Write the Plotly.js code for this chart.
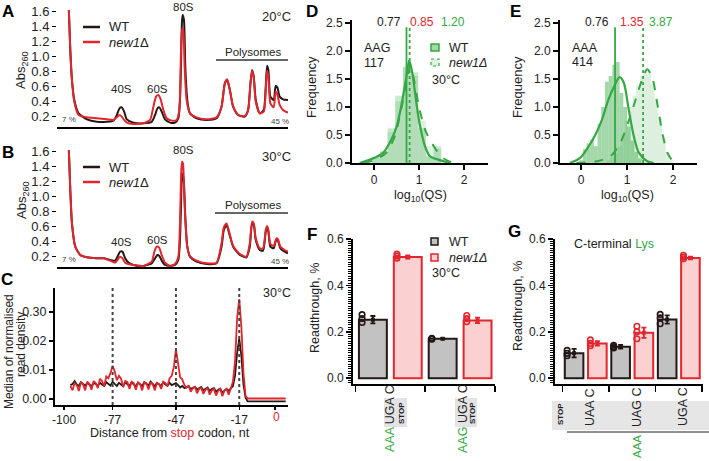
<!DOCTYPE html>
<html><head><meta charset="utf-8">
<script src="https://cdn.plot.ly/plotly-3.0.1.min.js"></script>
<style>html,body{margin:0;padding:0;background:#fff}#chart{width:709px;height:461px}</style>
</head><body><div id="chart"></div><script>
// ---------- DATA ----------
// Panel A (20°C) polysome profiles: position along gradient, Abs260
const aWtPos = [35,40,45,52,65,90,120,150,170,180,188,195,202,210,230,260,285,295,302,308,315,325,340,355,365,370,373,376,378,382,386,392,400,420,450,480,495,505,512,520,530,545,565,575,582,587,592,598,610,622,628,632,636,642,652,658,663,670,680,695];
const aWtAbs = [1.7,1.089,0.689,0.422,0.244,0.164,0.133,0.133,0.147,0.222,0.311,0.324,0.267,0.164,0.12,0.111,0.133,0.222,0.311,0.324,0.267,0.164,0.12,0.12,0.178,0.422,0.867,1.467,1.556,1.489,0.867,0.422,0.244,0.178,0.156,0.178,0.333,0.644,0.689,0.556,0.333,0.222,0.2,0.289,0.644,0.822,0.733,0.422,0.244,0.289,0.6,0.88,0.822,0.467,0.422,0.609,0.591,0.467,0.431,0.422];
const aNewPos = [35,40,45,52,65,90,120,150,170,180,188,195,202,210,230,260,280,290,298,305,312,320,330,345,360,368,371,374,377,380,384,390,400,420,450,480,495,505,512,520,530,545,565,575,582,587,592,598,610,622,628,632,636,642,652,658,663,670,680,695];
const aNewAbs = [1.7,1.089,0.689,0.40,0.222,0.191,0.178,0.164,0.156,0.191,0.222,0.2,0.156,0.12,0.102,0.111,0.156,0.333,0.467,0.489,0.431,0.289,0.178,0.147,0.156,0.289,0.644,1.222,1.378,1.347,0.867,0.422,0.244,0.191,0.164,0.191,0.333,0.644,0.698,0.564,0.333,0.222,0.209,0.289,0.644,0.813,0.711,0.4,0.244,0.267,0.556,0.813,0.733,0.378,0.324,0.533,0.502,0.356,0.289,0.253];
// Panel B (30°C)
const bWtPos = [35,40,45,55,70,90,120,140,160,175,182,190,197,205,215,230,260,285,295,302,308,315,325,340,355,365,370,373,376,379,382,386,392,400,420,450,480,495,502,510,518,530,550,570,580,587,592,598,610,620,628,632,636,642,652,660,665,672,685,695];
const bWtAbs = [1.7,1.089,0.644,0.333,0.222,0.191,0.178,0.178,0.156,0.147,0.2,0.267,0.267,0.178,0.12,0.089,0.076,0.111,0.178,0.222,0.209,0.147,0.089,0.076,0.089,0.156,0.422,0.867,1.267,1.311,1.178,0.733,0.333,0.2,0.133,0.102,0.111,0.333,0.556,0.622,0.511,0.333,0.222,0.191,0.333,0.644,0.622,0.422,0.289,0.28,0.533,0.591,0.533,0.333,0.311,0.431,0.413,0.311,0.267,0.244];
const bNewPos = [35,40,45,55,70,90,120,140,160,175,182,190,197,205,215,230,260,285,293,300,307,315,325,340,355,365,370,373,376,379,382,386,392,400,420,450,480,495,502,510,518,530,550,570,580,587,592,598,610,620,628,632,636,642,652,660,665,672,685,695];
const bNewAbs = [1.7,1.089,0.644,0.333,0.222,0.191,0.178,0.178,0.147,0.12,0.156,0.2,0.178,0.12,0.102,0.089,0.076,0.133,0.267,0.333,0.324,0.222,0.12,0.076,0.102,0.2,0.644,1.222,1.467,1.444,1.133,0.689,0.333,0.209,0.147,0.111,0.12,0.378,0.591,0.644,0.533,0.342,0.236,0.2,0.378,0.667,0.644,0.444,0.311,0.311,0.556,0.609,0.556,0.369,0.342,0.444,0.431,0.333,0.289,0.267];

// Panel C: distance from stop codon (nt) and median normalised read density
const cDist = [-97,-96,-95,-94,-93,-92,-91,-90,-89,-88,-87,-86,-85,-84,-83,-82,-81,-80,-79,-78,-77,-76,-75,-74,-73,-72,-71,-70,-69,-68,-67,-66,-65,-64,-63,-62,-61,-60,-59,-58,-57,-56,-55,-54,-53,-52,-51,-50,-49,-48,-47,-46,-45,-44,-43,-42,-41,-40,-39,-38,-37,-36,-35,-34,-33,-32,-31,-30,-29,-28,-27,-26,-25,-24,-23,-22,-21,-20,-19,-18,-17,-16,-15,-14,-13,-12,-11,-10,-9,-8,-7,-6,-5,-4,-3,-2,-1,0,1,2,3,4,5];
const cNew = [0.0045,0.0030,0.0055,0.0048,0.0028,0.0058,0.0050,0.0030,0.0060,0.0052,0.0032,0.0062,0.0055,0.0038,0.0070,0.0062,0.0045,0.0078,0.0072,0.0090,0.0115,0.0095,0.0065,0.0080,0.0070,0.0042,0.0062,0.0058,0.0035,0.0060,0.0055,0.0032,0.0058,0.0052,0.0030,0.0057,0.0055,0.0033,0.0058,0.0050,0.0030,0.0055,0.0052,0.0035,0.0060,0.0055,0.0045,0.0072,0.0080,0.0110,0.0172,0.0120,0.0075,0.0068,0.0048,0.0040,0.0045,0.0025,0.0038,0.0042,0.0020,0.0035,0.0038,0.0018,0.0032,0.0038,0.0015,0.0030,0.0035,0.0012,0.0028,0.0035,0.0010,0.0030,0.0035,0.0015,0.0040,0.0060,0.0130,0.0280,0.0345,0.0250,0.0090,0.0010,0.0002,0.0002,0.0002,0.0002,0.0002,0.0002,0.0002,0.0002,0.0002,0.0002,0.0002,0.0002,0.0002,0.0002,0.0002,0.0002,0.0002,0.0002,0.0002];
const cWt = [0.0048,0.0052,0.0062,0.0050,0.0045,0.0058,0.0052,0.0046,0.0056,0.0050,0.0044,0.0055,0.0052,0.0046,0.0056,0.0050,0.0045,0.0058,0.0052,0.0046,0.0060,0.0052,0.0045,0.0056,0.0050,0.0044,0.0058,0.0052,0.0045,0.0058,0.0050,0.0044,0.0056,0.0050,0.0045,0.0058,0.0052,0.0046,0.0060,0.0050,0.0044,0.0056,0.0050,0.0045,0.0058,0.0050,0.0046,0.0056,0.0048,0.0052,0.0055,0.0048,0.0040,0.0045,0.0038,0.0040,0.0045,0.0035,0.0040,0.0042,0.0033,0.0038,0.0042,0.0030,0.0035,0.0040,0.0028,0.0035,0.0038,0.0025,0.0032,0.0036,0.0022,0.0030,0.0035,0.0028,0.0035,0.0045,0.0080,0.0160,0.0208,0.0150,0.0050,0.0005,-0.0008,-0.0008,-0.0008,-0.0008,-0.0008,-0.0008,-0.0008,-0.0008,-0.0008,-0.0008,-0.0008,-0.0008,-0.0008,-0.0008,-0.0008,-0.0008,-0.0008,-0.0008,-0.0008];
const cMarks = [-77,-47,-17];
const cTicks = [-100,-77,-47,-17,0];
const cTickText = ['-100','-77','-47','-17',' '];

// Panel D (AAG, n=117): histogram bins and KDE of log10(QS)
const dBinCenters = [0.045,0.215,0.385,0.555,0.725,0.895,1.065,1.235,1.405];
const dBinWidth = 0.17;
const dWtHist = [0.12,0.2,0.62,1.2,1.72,1.62,0.62,0.12,0.3];
const dNewHist = [0.1,0.22,0.55,1.1,1.7,1.55,0.75,0.3,0.25];
const dWtKdeX = [-0.32,0.0,0.2,0.385,0.5,0.6,0.72,0.78,0.85,0.94,1.01,1.13,1.24,1.42,1.68];
const dWtKdeY = [0,0.09,0.18,0.42,0.65,1.0,1.55,1.83,1.6,1.07,0.71,0.3,0.12,0.06,0];
const dNewKdeX = [-0.24,0,0.27,0.46,0.6,0.73,0.81,0.9,1.01,1.16,1.35,1.53,1.76];
const dNewKdeY = [0,0.05,0.18,0.48,0.95,1.49,1.73,1.43,0.95,0.54,0.27,0.09,0];
const dMedians = [0.72,0.79];
// Panel E (AAA, n=414)
const eBinWidth = 0.08;
const eWtBins = [0.0,0.08,0.16,0.24,0.32,0.40,0.48,0.56,0.64,0.72,0.80,0.88,0.96,1.04,1.12,1.20,1.28];
const eWtHist = [0.05,0.25,0.35,0.42,0.3,0.7,1.0,1.45,1.55,1.75,1.8,1.25,1.0,0.65,0.4,0.2,0.08];
const eNewBins = [0.60,0.68,0.76,0.84,0.92,1.00,1.08,1.16,1.24,1.32,1.40,1.48,1.56,1.64,1.72,1.80,1.88,1.96];
const eNewHist = [0.05,0.1,0.18,0.3,0.5,0.75,1.0,1.2,1.38,1.55,1.65,1.6,1.4,1.15,0.8,0.45,0.2,0.05];
const eWtKdeX = [-0.24,-0.02,0.16,0.31,0.45,0.6,0.74,0.84,0.93,1.04,1.15,1.26,1.44,1.58];
const eWtKdeY = [0,0.09,0.29,0.5,0.76,1.14,1.4,1.53,1.43,0.94,0.47,0.18,0.03,0];
const eNewKdeX = [-0.1,0.34,0.64,0.85,1.04,1.18,1.33,1.44,1.55,1.66,1.77,1.88,2.02];
const eNewKdeY = [0,0.03,0.12,0.35,0.76,1.11,1.49,1.67,1.52,1.05,0.53,0.18,0];
const eMedians = [0.74,1.35];
const medianTop = 2.42;

// Panel F: readthrough, %
const fCats = ['AAA','AAG'];
const fWt = [0.252,0.170];
const fWtSd = [0.016,0.003];
const fWtPts = [[0.274,0.257,0.240],[0.172,0.170,0.168]];
const fNew = [0.522,0.249];
const fNewSd = [0.007,0.012];
const fNewPts = [[0.535,0.526,0.517],[0.270,0.257,0.243]];
// Panel G: C-terminal Lys, stop codons
const gCats = ['UAA','UAG','UGA'];
const gWt = [0.108,0.136,0.253];
const gWtSd = [0.018,0.008,0.018];
const gWtPts = [[0.120,0.107,0.097],[0.142,0.136,0.130],[0.275,0.260,0.235]];
const gNew = [0.150,0.196,0.518];
const gNewSd = [0.010,0.022,0.006];
const gNewPts = [[0.165,0.150,0.140],[0.224,0.200,0.170],[0.530,0.522,0.515]];

// ---------- STYLE ----------
const W = 709, H = 461;
const BLK = '#231815', RED = '#e1262d', GRN = '#35a844', TXT = '#222';
const GREYF = '#c2c2c2', PINKF = '#fbd0d0';
const FONT = 'Liberation Sans, Arial, Helvetica, sans-serif';
const px = x => x / W, py = y => 1 - y / H;
const dX = (a, b) => [a / W, b / W];
const dY = (top, bot) => [1 - bot / H, 1 - top / H];

const traces = [];
function line(x, y, xa, ya, color, opts) {
  traces.push(Object.assign({type:'scatter', mode:'lines', x, y, xaxis:xa, yaxis:ya,
    line:{color, width:2, shape:'spline', smoothing:0.6}, showlegend:false, hoverinfo:'skip'}, opts||{}));
}
// A & B
line(aWtPos, aWtAbs, 'x', 'y', BLK);
line(aNewPos, aNewAbs, 'x', 'y', RED);
line(bWtPos, bWtAbs, 'x2', 'y2', BLK);
line(bNewPos, bNewAbs, 'x2', 'y2', RED);
// C
line(cDist, cWt, 'x3', 'y3', BLK, {line:{color:BLK, width:1.8}});
line(cDist, cNew, 'x3', 'y3', RED, {line:{color:RED, width:1.8}});
// D
function hist(x, y, w, xa, ya, color) {
  traces.push({type:'bar', x, y, width:w, xaxis:xa, yaxis:ya, marker:{color, line:{width:0}}, showlegend:false, hoverinfo:'skip'});
}
hist(dBinCenters, dNewHist, dBinWidth, 'x4', 'y4', 'rgba(53,168,68,0.16)');
hist(dBinCenters, dWtHist, dBinWidth, 'x4', 'y4', 'rgba(53,168,68,0.26)');
line(dWtKdeX, dWtKdeY, 'x4', 'y4', GRN, {line:{color:GRN, width:2.2, shape:'spline', smoothing:0.8}});
line(dNewKdeX, dNewKdeY, 'x4', 'y4', GRN, {line:{color:GRN, width:2, dash:'dash', shape:'spline', smoothing:0.8}});
line([dMedians[0], dMedians[0]], [0, medianTop], 'x4', 'y4', GRN, {line:{color:GRN, width:1.8}});
line([dMedians[1], dMedians[1]], [0, medianTop], 'x4', 'y4', GRN, {line:{color:GRN, width:1.8, dash:'dot'}});
// E
hist(eNewBins, eNewHist, eBinWidth, 'x5', 'y5', 'rgba(53,168,68,0.17)');
hist(eWtBins, eWtHist, eBinWidth, 'x5', 'y5', 'rgba(53,168,68,0.45)');
line(eWtKdeX, eWtKdeY, 'x5', 'y5', GRN, {line:{color:GRN, width:2.2, shape:'spline', smoothing:0.8}});
line(eNewKdeX, eNewKdeY, 'x5', 'y5', GRN, {line:{color:GRN, width:2, dash:'dash', shape:'spline', smoothing:0.8}});
line([eMedians[0], eMedians[0]], [0, medianTop], 'x5', 'y5', GRN, {line:{color:GRN, width:1.8}});
line([eMedians[1], eMedians[1]], [0, medianTop], 'x5', 'y5', GRN, {line:{color:GRN, width:1.8, dash:'dot'}});

// F & G bars
function barGroup(cats, wt, wtSd, wtPts, nw, nwSd, nwPts, xa, ya, off) {
  const xw = cats.map((c, i) => 2 * i), xn = cats.map((c, i) => 2 * i + 1);
  traces.push({type:'bar', x:xw, y:wt, width:0.8, xaxis:xa, yaxis:ya, marker:{color:GREYF, line:{color:BLK, width:2}}, showlegend:false, hoverinfo:'skip'});
  traces.push({type:'bar', x:xn, y:nw, width:0.8, xaxis:xa, yaxis:ya, marker:{color:PINKF, line:{color:RED, width:2}}, showlegend:false, hoverinfo:'skip'});
  const pts = (arr, xs, color) => {
    const X = [], Y = [];
    arr.forEach((p, i) => p.forEach(v => { X.push(xs[i] + off); Y.push(v); }));
    traces.push({type:'scatter', mode:'markers', x:X, y:Y, xaxis:xa, yaxis:ya,
      marker:{symbol:'circle-open', size:5.5, color, line:{width:1.6, color}}, showlegend:false, hoverinfo:'skip', cliponaxis:false});
  };
  pts(wtPts, xw, BLK); pts(nwPts, xn, RED);
  traces.push({type:'scatter', mode:'markers', x:xw, y:wt, xaxis:xa, yaxis:ya, marker:{symbol:'square', size:4, color:BLK},
    error_y:{type:'data', array:wtSd, color:BLK, thickness:1.8, width:2.5}, showlegend:false, hoverinfo:'skip'});
  traces.push({type:'scatter', mode:'markers', x:xn, y:nw, xaxis:xa, yaxis:ya, marker:{symbol:'square', size:4, color:RED},
    error_y:{type:'data', array:nwSd, color:RED, thickness:1.8, width:2.5}, showlegend:false, hoverinfo:'skip'});
}
barGroup(fCats, fWt, fWtSd, fWtPts, fNew, fNewSd, fNewPts, 'x6', 'y6', -0.31);
barGroup(gCats, gWt, gWtSd, gWtPts, gNew, gNewSd, gNewPts, 'x7', 'y7', -0.3);

// ---------- AXES ----------
const base = {showgrid:false, zeroline:false, linecolor:'#000', linewidth:2, tickcolor:'#000', tickwidth:1.5,
  ticklen:4, ticks:'outside', tickfont:{size:12, color:TXT, family:FONT}, fixedrange:true};
const ax = o => Object.assign({}, base, o);
const polyY = [0.2,0.4,0.6,0.8,1.0,1.2,1.4,1.6];
const minorRT = {ticks:'outside', dtick:0.01, ticklen:3, tickwidth:1, tickcolor:'#000'};

const layout = {
  width:W, height:H, margin:{l:0, r:0, t:0, b:0}, paper_bgcolor:'#fff', plot_bgcolor:'rgba(0,0,0,0)',
  font:{family:FONT, color:TXT, size:12}, showlegend:false, barmode:'overlay',
  xaxis: ax({domain:dX(57,288), range:[0,695], anchor:'y', showline:true, ticks:'', showticklabels:false}),
  yaxis: ax({domain:dY(10,127), range:[0.062,1.623], anchor:'x', showline:false, tickvals:polyY, tickformat:'.1f', tickfont:{size:13, color:TXT, family:FONT}}),
  xaxis2: ax({domain:dX(57,288), range:[0,695], anchor:'y2', showline:true, ticks:'', showticklabels:false}),
  yaxis2: ax({domain:dY(150,267), range:[0.062,1.623], anchor:'x2', showline:false, tickvals:polyY, tickformat:'.1f', tickfont:{size:13, color:TXT, family:FONT}}),
  xaxis3: ax({domain:dX(55,288), range:[-104.3,6.1], anchor:'y3', showline:true, tickvals:cTicks, ticktext:cTickText, ticklen:3, tickfont:{size:12, color:TXT, family:FONT}}),
  yaxis3: ax({domain:dY(288,405), range:[-0.00205,0.0383], anchor:'x3', showline:true, tickvals:[0,0.01,0.02,0.03], ticktext:['0.00','0.01','0.02','0.30'], tickfont:{size:12.5, color:TXT, family:FONT}}),
  xaxis4: ax({domain:dX(352,488), range:[-0.49,2.53], anchor:'y4', showline:true, tickvals:[0,1,2], ticklen:5}),
  yaxis4: ax({domain:dY(20,163), range:[0,2.55], anchor:'x4', showline:true, tickvals:[0,0.5,1,1.5,2,2.5], tickformat:'.1f', ticklen:5}),
  xaxis5: ax({domain:dX(560,697), range:[-0.457,2.522], anchor:'y5', showline:true, tickvals:[0,1,2], ticklen:5}),
  yaxis5: ax({domain:dY(20,163), range:[0,2.55], anchor:'x5', showline:true, tickvals:[0,0.5,1,1.5,2,2.5], tickformat:'.1f', ticklen:5}),
  xaxis6: ax({domain:dX(353,495), range:[-0.57,3.5], anchor:'y6', showline:true, tickvals:[-0.5,1.5,3.5], showticklabels:false, ticklen:6}),
  yaxis6: ax({domain:dY(239,384), range:[-0.025,0.6], anchor:'x6', showline:true, tickvals:[0,0.2,0.4,0.6], tickformat:'.1f', ticklen:5, minor:minorRT}),
  xaxis7: ax({domain:dX(555,703), range:[-0.82,5.54], anchor:'y7', showline:true, tickvals:[-0.5,1.5,3.5,5.5], showticklabels:false, ticklen:6}),
  yaxis7: ax({domain:dY(239,384), range:[-0.025,0.6], anchor:'x7', showline:true, tickvals:[0,0.2,0.4,0.6], tickformat:'.1f', ticklen:5, minor:minorRT}),
};

// ---------- SHAPES ----------
const shapes = [];
const pline = (x0, y0, x1, y1, color, width, dash) => shapes.push({type:'line', xref:'paper', yref:'paper', x0:px(x0), y0:py(y0), x1:px(x1), y1:py(y1), line:{color, width, dash:dash||'solid'}});
const prect = (x0, y0, x1, y1, fill, color, width, dash) => shapes.push({type:'rect', xref:'paper', yref:'paper', x0:px(x0), y0:py(y0), x1:px(x1), y1:py(y1), fillcolor:fill, line:{color, width, dash:dash||'solid'}});
// A/B legends and polysome bars
pline(83, 27, 100, 27, BLK, 2.5); pline(83, 42, 100, 42, RED, 2.5);
pline(83, 167, 100, 167, BLK, 2.5); pline(83, 182, 100, 182, RED, 2.5);
pline(216, 60, 288, 60, '#333', 1.5); pline(215, 213, 288, 213, '#333', 1.5);
// C dotted markers
cMarks.forEach(m => shapes.push({type:'line', xref:'x3', yref:'y3 domain', x0:m, x1:m, y0:0, y1:1, line:{color:'#444', width:2, dash:'dot'}}));
// D legend
prect(431, 44, 439, 51, 'rgba(53,168,68,0.45)', GRN, 1.5);
prect(431, 59, 439, 66, 'rgba(53,168,68,0.15)', GRN, 1.2, 'dot');
// F legend and label boxes
prect(431, 238, 438, 245, GREYF, BLK, 1.5);
prect(431, 254, 438, 261, PINKF, RED, 1.5);
prect(384, 398, 407, 427, '#e3e3e3', 'rgba(0,0,0,0)', 0);
prect(455, 398, 477, 427, '#e3e3e3', 'rgba(0,0,0,0)', 0);
// G band
prect(552, 401, 709, 430, '#e6e6e6', 'rgba(0,0,0,0)', 0);
pline(567, 432, 709, 432, '#222', 1);

// ---------- ANNOTATIONS ----------
const anns = [];
function T(text, x, y, o) {
  const a = Object.assign({text, x:px(x), y:py(y), xref:'paper', yref:'paper', showarrow:false, xanchor:'center', yanchor:'middle'}, o || {});
  a.font = Object.assign({size:12, color:TXT, family:FONT}, (o && o.font) || {});
  anns.push(a);
}
const G = s => `<span style="color:${GRN}">${s}</span>`;
const R = s => `<span style="color:${RED}">${s}</span>`;
// letters
[['A',8,12],['B',8,152],['C',7,279],['D',312,12],['E',515,12],['F',312,234],['G',514,231]].forEach(l => T('<b>'+l[0]+'</b>', l[1], l[2], {font:{size:17, color:'#000'}}));
// A
T('Abs<sub>260</sub>', 22, 70, {textangle:-90, font:{size:13}});
T('20°C', 276, 16, {font:{size:13}});
T('WT', 107, 27, {xanchor:'left', font:{size:13}});
T('<i>new1</i>Δ', 107, 42, {xanchor:'left', font:{size:13}});
T('40S', 121, 89, {font:{size:11.5}}); T('60S', 157, 89, {font:{size:11.5}}); T('80S', 183, 7, {font:{size:11.5}});
T('Polysomes', 253, 52, {font:{size:11.5}});
T('7 %', 69, 119, {font:{size:8, color:'#444'}}); T('45 %', 280, 121, {font:{size:8, color:'#444'}});
// B
T('Abs<sub>260</sub>', 22, 200, {textangle:-90, font:{size:13}});
T('30°C', 276, 156, {font:{size:13}});
T('WT', 107, 167, {xanchor:'left', font:{size:13}});
T('<i>new1</i>Δ', 107, 182, {xanchor:'left', font:{size:13}});
T('40S', 121, 242, {font:{size:11.5}}); T('60S', 157, 240, {font:{size:11.5}}); T('80S', 183, 150, {font:{size:11.5}});
T('Polysomes', 253, 205, {font:{size:11.5}});
T('7 %', 69, 259, {font:{size:8, color:'#444'}}); T('45 %', 280, 261, {font:{size:8, color:'#444'}});
// C
T('Median of normalised', 9, 352, {textangle:-90, font:{size:12}});
T('read density', 21, 345, {textangle:-90, font:{size:12}});
T('30°C', 277, 293, {font:{size:12.5}});
T(R('0'), 276, 417, {font:{size:12}});
T('Distance from '+R('stop')+' codon, nt', 170, 433, {font:{size:12.5}});
// D
T('Frequency', 312, 87, {textangle:-90, font:{size:13}});
T('log<sub>10</sub>(QS)', 420, 196, {font:{size:12.5}});
T('0.77', 389, 22, {font:{size:12}}); T(R('0.85'), 422, 22, {font:{size:12}}); T(G('1.20'), 453, 22, {font:{size:12}});
T('AAG', 362, 48, {xanchor:'left', font:{size:12.5}}); T('117', 362, 63, {xanchor:'left', font:{size:12.5}});
T('WT', 447, 48, {xanchor:'left', font:{size:12.5}});
T('<i>new1Δ</i>', 447, 63, {xanchor:'left', font:{size:12.5}});
T('30°C', 430, 80, {xanchor:'left', font:{size:12.5}});
// E
T('Frequency', 518, 87, {textangle:-90, font:{size:13}});
T('log<sub>10</sub>(QS)', 627, 196, {font:{size:12.5}});
T('0.76', 597, 22, {font:{size:12}}); T(R('1.35'), 632, 22, {font:{size:12}}); T(G('3.87'), 661, 22, {font:{size:12}});
T('AAA', 570, 48, {xanchor:'left', font:{size:12.5}}); T('414', 570, 62, {xanchor:'left', font:{size:12.5}});
// F
T('Readthrough, %', 315, 308, {textangle:-90, font:{size:12.5}});
T('WT', 447, 242, {xanchor:'left', font:{size:12.5}});
T('<i>new1Δ</i>', 447, 258, {xanchor:'left', font:{size:12.5}});
T('30°C', 430, 273, {xanchor:'left', font:{size:12.5}});
T(G(fCats[0])+' UGA C', 390, 419, {textangle:-90, font:{size:12.5}});
T(G(fCats[1])+' UGA C', 463, 419, {textangle:-90, font:{size:12.5}});
T('<b>STOP</b>', 401, 413, {textangle:-90, font:{size:8}});
T('<b>STOP</b>', 472, 413, {textangle:-90, font:{size:8}});
// G
T('Readthrough, %', 518, 306, {textangle:-90, font:{size:12.5}});
T('C-terminal '+G('Lys'), 572, 244, {xanchor:'left', font:{size:12.5}});
gCats.forEach((c, i) => T(c+' C', [590,637,683][i], 407, {textangle:-90, font:{size:12.5}}));
T('<b>STOP</b>', 560, 414, {textangle:-90, font:{size:8}});
T(G('AAA'), 637, 447, {textangle:-90, font:{size:11.5}});

layout.shapes = shapes;
layout.annotations = anns;
Plotly.newPlot('chart', traces, layout, {staticPlot:true, displayModeBar:false});
</script></body></html>
